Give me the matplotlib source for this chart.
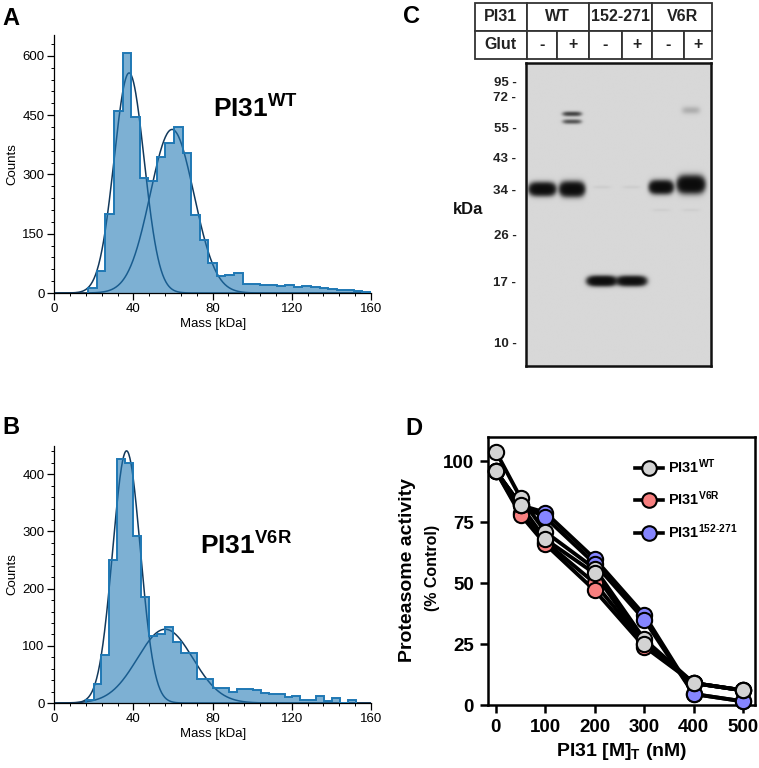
import numpy as np
import matplotlib
matplotlib.use("Agg")
import matplotlib.pyplot as plt
from matplotlib.lines import Line2D
from matplotlib.ticker import MultipleLocator

plt.rcParams['font.family'] = ['Liberation Sans', 'DejaVu Sans']
plt.rcParams['mathtext.fontset'] = 'custom'
plt.rcParams['mathtext.rm'] = 'Liberation Sans'
plt.rcParams['mathtext.bf'] = 'Liberation Sans:bold'
plt.rcParams['mathtext.it'] = 'Liberation Sans:italic'

W, H = 759, 768

# --- A / B: mass photometry histograms (counts per bin) and gaussian fits (amp, mu, sigma)
a_edges = np.linspace(17.2, 160, 34)
a_counts = [12, 55, 201, 460, 608, 445, 290, 284, 343, 380, 421, 355, 197, 135, 77,
            44, 45, 51, 24, 23, 20, 19, 18, 19, 16, 17, 14, 12, 10, 8, 7, 5, 3]
a_fits = [(557, 37.8, 7.6), (414, 59.5, 11.0)]

b_edges = np.linspace(15.8, 152.5, 35)
b_counts = [5, 34, 84, 250, 427, 419, 292, 186, 117, 120, 133, 107, 87, 87, 42, 42, 26,
            26, 19, 24, 24, 22, 18, 16, 15, 10, 12, 5, 6, 13, 3, 8, 0, 6]
b_fits = [(441, 36.5, 7.0), (129, 56.0, 14.0)]

# --- C: western blot
header_top = ["PI31", "WT", "152-271", "V6R"]
header_bottom = ["Glut", "-", "+", "-", "+", "-", "+"]
ladder_kda = [95, 72, 55, 43, 34, 26, 17, 10]
ladder_pos = [0.061, 0.110, 0.213, 0.312, 0.416, 0.565, 0.720, 0.923]
band_lane = [0, 1, 1, 1, 2, 3, 4, 5, 5, 2, 3, 4, 5]
band_kda = [34, 34, 62, 58, 17, 17, 34.5, 35.2, 64, 34.5, 34.5, 30, 30]
band_level = [1.0, 1.0, 0.28, 0.22, 1.0, 0.9, 1.0, 1.1, 0.05, 0.012, 0.012, 0.01, 0.01]
band_width = [0.8, 0.75, 0.6, 0.6, 0.88, 0.9, 0.72, 0.82, 0.6, 0.6, 0.6, 0.6, 0.6]
band_thick = [0.017, 0.019, 0.007, 0.007, 0.013, 0.013, 0.017, 0.022, 0.012, 0.005, 0.005, 0.005, 0.005]

# --- D: proteasome activity (% control), two replicates per construct
conc = [0, 50, 100, 200, 300, 400, 500]
wt_reps = [[104, 85, 71, 56, 27, 9, 6], [96, 82, 68, 54, 25, 9, 6]]
v6r_reps = [[96, 79, 67, 50, 25, 9, 6], [96, 78, 66, 47, 24, 9, 6]]
trunc_reps = [[96, 82, 79, 60, 37, 4.5, 1.5], [96, 82, 77, 58, 35, 4.5, 1.5]]


def px_box(left, top, right, bottom):
    return [left / W, 1 - bottom / H, (right - left) / W, (bottom - top) / H]


fig = plt.figure(figsize=(W / 100, H / 100), dpi=100)


def gauss(x, amp, mu, sig):
    return amp * np.exp(-(x - mu) ** 2 / (2 * sig ** 2))


def hist_panel(box, edges, counts, fits, ymax, ymaj, ymin, label, lab_xy):
    ax = fig.add_axes(box)
    xs = np.linspace(0, 160, 600)
    for amp, mu, sig in fits:
        ax.plot(xs, gauss(xs, amp, mu, sig), color="#12395c", lw=1.1, zorder=1)
    ax.stairs(counts, edges, fill=True, color="#1f77b4", alpha=0.58, zorder=2, lw=0)
    ax.stairs(counts, edges, color="#1f78b4", lw=1.4, zorder=3)
    ax.set_xlim(0, 160)
    ax.set_ylim(0, ymax)
    ax.set_xticks([0, 40, 80, 120, 160])
    ax.set_yticks(ymaj)
    ax.xaxis.set_minor_locator(MultipleLocator(8))
    ax.yaxis.set_minor_locator(MultipleLocator(ymin))
    for s in ["top", "right"]:
        ax.spines[s].set_visible(False)
    for s in ["left", "bottom"]:
        ax.spines[s].set_linewidth(0.9)
    ax.tick_params(which="major", length=5, width=0.9, labelsize=9.5, pad=2)
    ax.tick_params(which="minor", length=2.5, width=0.7)
    ax.set_ylabel("Counts", fontsize=9.5, labelpad=3)
    ax.set_xlabel("Mass [kDa]", fontsize=9.5, labelpad=2)
    ax.text(lab_xy[0], lab_xy[1], label, fontsize=19, fontweight="bold")
    return ax


hist_panel(px_box(54.3, 35, 371, 293), a_edges, a_counts, a_fits, 653,
           [0, 150, 300, 450, 600], 30, r"PI31$^{\mathbf{WT}}$", (80, 443))
hist_panel(px_box(54.3, 445.7, 371, 703), b_edges, b_counts, b_fits, 450,
           [0, 100, 200, 300, 400], 20, r"PI31$^{\mathbf{V6R}}$", (73.7, 259))

# --- C: header table
axt = fig.add_axes(px_box(475, 2.7, 712, 59))
axt.axis("off")
w_top = np.array([51.7, 62.3, 63.3, 59.7])
w_bot = np.array([51.7, 30.6, 31.7, 32.7, 30.6, 31.7, 28])
for texts, widths, bb in [(header_top, w_top, [0, 0.5, 1, 0.5]),
                          (header_bottom, w_bot, [0, 0, 1, 0.5])]:
    tb = axt.table(cellText=[texts], colWidths=list(widths / widths.sum()),
                   cellLoc="center", bbox=bb)
    tb.auto_set_font_size(False)
    for cell in tb.get_celld().values():
        cell.set_linewidth(1.3)
        cell.set_edgecolor("#333333")
        cell.get_text().set_fontsize(11.5)
        cell.get_text().set_fontweight("bold")
        cell.get_text().set_color("#222222")

# --- C: gel
axg = fig.add_axes(px_box(526, 63.3, 710.7, 365.7))
x0, x1 = -0.54, 5.66
gx = np.linspace(x0, x1, 260)
gy = np.linspace(0, 1, 420)
GX, GY = np.meshgrid(gx, gy)
dark = np.zeros_like(GX)
log_lad = -np.log10(ladder_kda)
for lane, kda, lev, wd, th in zip(band_lane, band_kda, band_level, band_width, band_thick):
    yc = np.interp(-np.log10(kda), log_lad, ladder_pos)
    fx = np.exp(-(np.abs(GX - lane) / (wd / 2)) ** 4)
    fy = np.exp(-((GY - yc) / th) ** 2)
    dark += lev * fx * fy
bg = 0.845
img = bg - (bg - 0.04) * (1 - np.exp(-4.5 * dark))
axg.imshow(img, cmap="gray", vmin=0, vmax=1, extent=(x0, x1, 1, 0),
           aspect="auto", interpolation="bilinear")
axg.set_xlim(x0, x1)
axg.set_ylim(1, 0)
axg.set_xticks([])
axg.set_yticks(ladder_pos)
axg.set_yticklabels([f"{k} -" for k in ladder_kda], fontsize=9.5, fontweight="bold",
                    color="#222222")
axg.tick_params(axis="y", length=0, pad=7)
for s in axg.spines.values():
    s.set_linewidth(1.8)
    s.set_color("#111111")
fig.text(468 / W, 1 - 209 / H, "kDa", fontsize=12, fontweight="bold",
         ha="center", va="center", color="#111111")

# --- D: activity
axd = fig.add_axes(px_box(488, 437, 755, 705))
series = [(v6r_reps, "#f77f7f"), (trunc_reps, "#8585ff"), (wt_reps, "#d3d3d3")]
for reps, col in series:
    for r in reps:
        axd.plot(conc, r, color="black", lw=2.8, zorder=2, solid_joinstyle="round",
                 clip_on=False)
for reps, col in series:
    for r in reps:
        axd.plot(conc, r, "o", ms=11, mfc=col, mec="black", mew=1.5, zorder=3,
                 clip_on=False)
axd.set_xlim(-16, 524)
axd.set_ylim(0, 110)
axd.set_xticks([0, 100, 200, 300, 400, 500])
axd.set_yticks([0, 25, 50, 75, 100])
for s in axd.spines.values():
    s.set_linewidth(1.8)
axd.tick_params(length=6, width=1.8, labelsize=13.5, pad=4)
for t in axd.get_xticklabels() + axd.get_yticklabels():
    t.set_fontweight("bold")
axd.set_xlabel(r"PI31 [M]$_{\mathbf{T}}$ (nM)", fontsize=14, fontweight="bold", labelpad=4)
fig.text(408 / W, 1 - 570 / H, "Proteasome activity", rotation=90, fontsize=14,
         fontweight="bold", ha="center", va="center")
fig.text(432 / W, 1 - 568 / H, "(% Control)", rotation=90, fontsize=11.5,
         fontweight="bold", ha="center", va="center")
handles = [Line2D([], [], color="black", lw=2.6, marker="o", ms=10.5, mfc=c,
                  mec="black", mew=1.5) for _, c in [series[2], series[0], series[1]]]
labels = [r"PI31$^{\mathbf{WT}}$", r"PI31$^{\mathbf{V6R}}$",
          r"PI31$^{\mathbf{152}\text{-}\mathbf{271}}$"]
leg = axd.legend(handles, labels, loc="upper left", bbox_to_anchor=(0.55, 0.925),
                 frameon=False, borderpad=0, borderaxespad=0, handlelength=1.9,
                 handletextpad=0.4, labelspacing=0.95,
                 prop={"size": 10.5, "weight": "bold"})

# panel letters
for ch, (x, y) in {"A": (2, 7), "B": (2, 416), "C": (403, 5), "D": (405, 417)}.items():
    fig.text(x / W, 1 - y / H, ch, fontsize=17, fontweight="bold", va="top", ha="left")

fig.savefig("out.png", dpi=100)
